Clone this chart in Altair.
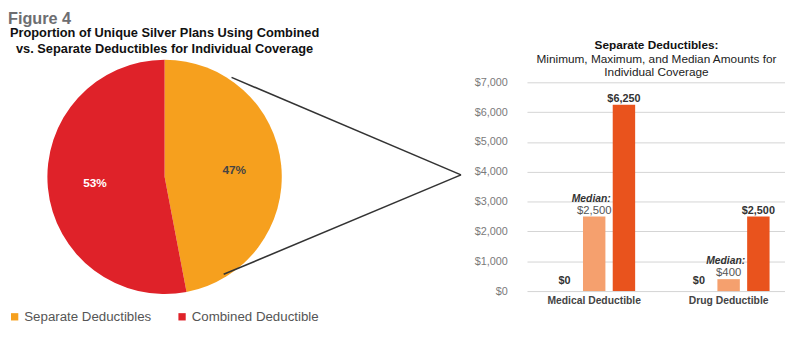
import altair as alt
import pandas as pd

# ---------------- data ----------------
pie_labels = ["Separate Deductibles", "Combined Deductible"]
pie_shares = [47, 53]
pie_colors = ["#F6A01E", "#DF2229"]

groups = ["Medical Deductible", "Drug Deductible"]
kinds = ["Minimum", "Median", "Maximum"]
medical_values = [0, 2500, 6250]
drug_values = [0, 400, 2500]
kind_colors = ["#FFFFFF", "#F5A06E", "#E9531D"]

y_ticks = [0, 1000, 2000, 3000, 4000, 5000, 6000, 7000]

# call-out connector (pie panel units: x from left, y from top)
connector_start_x = [227, 219]
connector_start_y = [-5, 195]
connector_tip_x = [460, 460]
connector_tip_y = [94, 94]

FONT = "Liberation Sans"
W1, H1 = 318, 192
W2, H2 = 255, 212

# ---------------- pie panel ----------------
pie_df = pd.DataFrame({
    "plan": pie_labels,
    "share": pie_shares,
    "order": [1, 2],
    "label": [f"{v}%" for v in pie_shares],
})

pie_base = alt.Chart(pie_df).encode(
    theta=alt.Theta("share:Q", stack=True),
    order=alt.Order("order:Q"),
)

arc = pie_base.mark_arc(outerRadius=119).encode(
    color=alt.Color(
        "plan:N",
        scale=alt.Scale(domain=pie_labels, range=pie_colors),
        legend=alt.Legend(
            title=None, orient="bottom", direction="horizontal",
            symbolType="square", symbolSize=55, symbolStrokeWidth=0,
            labelFontSize=13.5, labelColor="#555555", labelFont=FONT,
            labelOffset=3, columnPadding=24, offset=39, padding=0,
        ),
    )
)

pie_text = pie_base.mark_text(
    radius=71, fontSize=12, fontWeight="bold", font=FONT
).encode(
    text="label:N",
    color=alt.condition(alt.datum.order == 2, alt.value("white"), alt.value("#444444")),
)

conn_df = pd.DataFrame({
    "x": connector_start_x, "y": connector_start_y,
    "x2": connector_tip_x, "y2": connector_tip_y,
})
connector = alt.Chart(conn_df).mark_rule(color="#333333", strokeWidth=1.6).encode(
    x=alt.X("x:Q", scale=alt.Scale(domain=[0, W1], nice=False, zero=False), axis=None),
    y=alt.Y("y:Q", scale=alt.Scale(domain=[0, H1], nice=False, zero=False, reverse=True), axis=None),
    x2="x2:Q",
    y2="y2:Q",
)

left = alt.layer(arc, pie_text, connector).properties(
    width=W1, height=H1,
    title=alt.TitleParams(
        ["Proportion of Unique Silver Plans Using Combined",
         "vs. Separate Deductibles for Individual Coverage"],
        fontSize=13, fontWeight="bold", color="#111111", font=FONT,
        anchor="middle", offset=4, lineHeight=16,
    ),
)

# ---------------- bar panel ----------------
rows = []
for g, vals in zip(groups, [medical_values, drug_values]):
    for k, v in zip(kinds, vals):
        rows.append({"group": g, "kind": k, "value": v, "lbl": "$" + f"{v:,}"})
bar_df = pd.DataFrame(rows)

bar_base = alt.Chart(bar_df).encode(
    x=alt.X(
        "group:N", sort=groups,
        scale=alt.Scale(paddingInner=0, paddingOuter=0, range=[11, 284]),
        axis=alt.Axis(
            title=None, labelAngle=0, labelFontWeight="bold", labelFontSize=10.5,
            labelColor="#444444", labelFont=FONT, ticks=False, domain=False,
            labelPadding=5,
        ),
    ),
    xOffset=alt.XOffset(
        "kind:N", sort=kinds,
        scale=alt.Scale(paddingInner=0.246, paddingOuter=0.883),
    ),
    y=alt.Y(
        "value:Q",
        scale=alt.Scale(domain=[0, 7000], nice=False),
        axis=alt.Axis(
            title=None, values=y_ticks, format="$,d", labelColor="#7A7A7A",
            labelFontSize=11, labelFont=FONT, domain=False, ticks=False,
            gridColor="#D4D4D4", labelPadding=9,
        ),
    ),
)

bars = bar_base.mark_bar().encode(
    color=alt.Color("kind:N", scale=alt.Scale(domain=kinds, range=kind_colors), legend=None)
)

min_labels = bar_base.transform_filter(alt.datum.kind == "Minimum").mark_text(
    fontSize=11, fontWeight="bold", color="#333333", baseline="alphabetic", dy=-7, font=FONT
).encode(text="lbl:N")

max_labels = bar_base.transform_filter(alt.datum.kind == "Maximum").mark_text(
    fontSize=11, fontWeight="bold", color="#333333", baseline="alphabetic", dy=-3, font=FONT
).encode(text="lbl:N")

median_word = bar_base.transform_filter(alt.datum.kind == "Median").mark_text(
    text="Median:", fontSize=10.5, fontWeight="bold", fontStyle="italic",
    color="#333333", baseline="alphabetic", dy=-15, dx=-3, font=FONT
)

median_value = bar_base.transform_filter(alt.datum.kind == "Median").mark_text(
    fontSize=11.5, color="#555555", baseline="alphabetic", dy=-3, font=FONT
).encode(text="lbl:N")

right = alt.layer(bars, min_labels, max_labels, median_word, median_value).properties(
    width=W2, height=H2,
    title=alt.TitleParams(
        "Separate Deductibles:",
        subtitle=["Minimum, Maximum, and Median Amounts for", "Individual Coverage"],
        fontSize=12, fontWeight="bold", color="#111111", font=FONT,
        subtitleFontSize=12, subtitleColor="#222222", subtitleFont=FONT,
        subtitlePadding=2, subtitleLineHeight=13.5,
        anchor="middle", offset=5, dy=8, dx=15,
    ),
)

chart = alt.hconcat(left, right, spacing=12).resolve_scale(
    color="independent"
).properties(
    title=alt.TitleParams(
        "Figure 4", anchor="start", fontSize=16.5, fontWeight="bold",
        color="#6D6E71", font=FONT, offset=0,
    ),
    padding=0,
    background="white",
).configure_view(stroke=None)

chart.save("out.html", embed_options={"renderer": "svg", "actions": False})
